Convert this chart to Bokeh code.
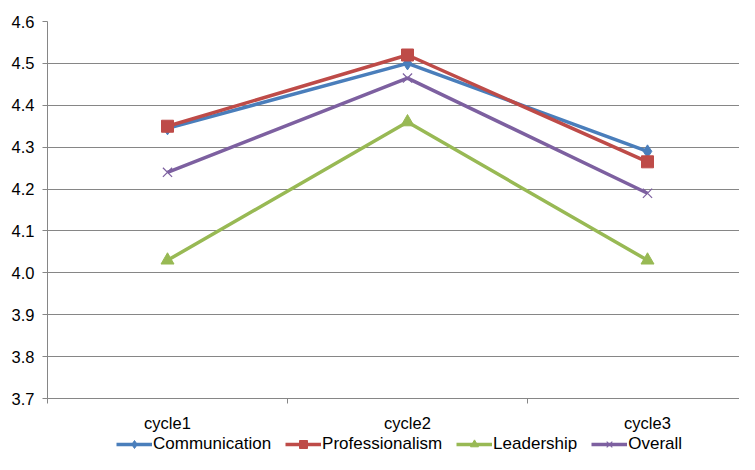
from bokeh.plotting import figure
from bokeh.layouts import column
from bokeh.models import FixedTicker, Legend, LegendItem, Range1d, NumeralTickFormatter
from bokeh.embed import file_html
from bokeh.resources import INLINE

categories = ["cycle1", "cycle2", "cycle3"]
communication = [4.345, 4.50, 4.29]
professionalism = [4.35, 4.52, 4.265]
leadership = [4.03, 4.36, 4.03]
overall = [4.24, 4.465, 4.19]
y_ticks = [3.7, 3.8, 3.9, 4.0, 4.1, 4.2, 4.3, 4.4, 4.5, 4.6]

FONT = "Liberation Sans"
xs = [i + 0.5 for i in range(len(categories))]

W = 739
H1, H2 = 434, 20
LEFT, TOP, BOTTOM = 47, 21, 34

p = figure(width=W, height=H1, output_backend="svg", toolbar_location=None,
           x_range=Range1d(0, (W - LEFT) / 240), y_range=Range1d(3.7, 4.6))
p.min_border_left = LEFT
p.min_border_right = 0
p.min_border_top = TOP
p.min_border_bottom = BOTTOM
p.outline_line_color = None
p.background_fill_color = "white"
p.border_fill_color = "white"

# axes
p.xaxis.ticker = FixedTicker(ticks=xs, minor_ticks=[0, 1, 2, 3])
p.xaxis.major_label_overrides = {x: c for x, c in zip(xs, categories)}
p.xaxis.major_tick_out = 0
p.xaxis.major_tick_in = 0
p.xaxis.minor_tick_out = 5
p.xaxis.minor_tick_in = 0
p.xaxis.minor_tick_line_color = "#868686"
p.xaxis.axis_line_color = "#868686"
p.xaxis.major_label_standoff = 10

p.yaxis.ticker = FixedTicker(ticks=y_ticks)
p.yaxis.formatter = NumeralTickFormatter(format="0.0")
p.yaxis.major_tick_out = 5
p.yaxis.major_tick_in = 0
p.yaxis.minor_tick_out = 0
p.yaxis.minor_tick_in = 0
p.yaxis.major_tick_line_color = "#868686"
p.yaxis.axis_line_color = "#868686"
p.yaxis.major_label_standoff = 8

for ax in (p.xaxis, p.yaxis):
    ax.major_label_text_font = FONT
    ax.major_label_text_font_size = "16.5px"
    ax.major_label_text_color = "black"

p.xgrid.grid_line_color = None
p.ygrid.ticker = FixedTicker(ticks=y_ticks)
p.ygrid.grid_line_color = "#868686"
p.ygrid.grid_line_width = 1

series = [
    ("Communication", communication, "#4A7EBB", "diamond", 13),
    ("Professionalism", professionalism, "#BE4B48", "square", 12),
    ("Leadership", leadership, "#98B954", "triangle", 13),
    ("Overall", overall, "#7D60A0", "x", 13),
]

# legend strip below the chart (its y range keeps the series out of view;
# only the legend glyphs are shown)
q = figure(width=W, height=H2, output_backend="svg", toolbar_location=None,
           x_axis_type=None, y_axis_type=None,
           x_range=Range1d(0, 1), y_range=Range1d(-2, -1))
q.min_border = 0
q.outline_line_color = None
q.xgrid.grid_line_color = None
q.ygrid.grid_line_color = None
q.background_fill_color = "white"
q.border_fill_color = "white"

items = []
for name, vals, color, marker, size in series:
    p.line(xs, vals, line_color=color, line_width=3.5)
    l2 = q.line(xs, vals, line_color=color, line_width=3.5)
    if marker == "x":
        p.scatter(xs, vals, marker=marker, size=size, line_color=color, line_width=1.2)
        s2 = q.scatter(xs, vals, marker=marker, size=size, line_color=color, line_width=1.2)
    else:
        p.scatter(xs, vals, marker=marker, size=size, fill_color=color, line_color=color)
        s2 = q.scatter(xs, vals, marker=marker, size=size, fill_color=color, line_color=color)
    items.append(LegendItem(label=name, renderers=[l2, s2]))

legend = Legend(items=items, orientation="horizontal", location=(116 - LEFT, 0))
legend.label_text_font = FONT
legend.label_text_font_size = "17px"
legend.label_text_color = "black"
legend.glyph_width = 36
legend.glyph_height = 20
legend.label_height = 18
legend.label_standoff = 1
legend.spacing = 14
legend.padding = 0
legend.margin = 0
legend.border_line_color = None
legend.background_fill_alpha = 0
q.add_layout(legend, "center")

layout = column(p, q, spacing=0)
open("out.html", "w").write(file_html(layout, INLINE))
